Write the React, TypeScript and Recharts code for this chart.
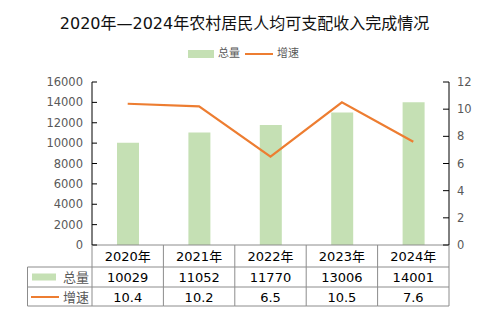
import React from 'react';
import { ComposedChart, Bar, Line, XAxis, YAxis } from 'recharts';

const years = ['2020年', '2021年', '2022年', '2023年', '2024年'];
const totals = [10029, 11052, 11770, 13006, 14001];
const growth = [10.4, 10.2, 6.5, 10.5, 7.6];
const leftTicks = [0, 2000, 4000, 6000, 8000, 10000, 12000, 14000, 16000];
const rightTicks = [0, 2, 4, 6, 8, 10, 12];
const seriesNames = ['总量', '增速'];
const titleText = '2020年—2024年农村居民人均可支配收入完成情况';

const data = years.map((y, i) => ({ year: y, total: totals[i], growth: growth[i] }));

const FONT = '"DejaVu Sans", "Noto Sans CJK SC", sans-serif';
const GREEN = '#C5E0B4';
const ORANGE = '#ED7D31';
const GRID = '#8c8c8c';
const GRAY_TEXT = '#595959';

const ROW1 = 22;
const ROW2 = 42;
const ROW3 = 61;

const TableTick = (props: any) => {
  const { x, y, payload, index } = props;
  const half = payload && payload.offset ? payload.offset : 35.7;
  const left = x - half;
  const right = x + half;
  const i = index;
  return (
    <g>
      <line x1={left} x2={right} y1={y + ROW1} y2={y + ROW1} stroke={GRID} strokeWidth={1} />
      <line x1={left} x2={right} y1={y + ROW2} y2={y + ROW2} stroke={GRID} strokeWidth={1} />
      <line x1={left} x2={right} y1={y + ROW3} y2={y + ROW3} stroke={GRID} strokeWidth={1} />
      <line x1={right} x2={right} y1={y} y2={y + ROW3} stroke={GRID} strokeWidth={1} />
      {i === 0 && (
        <g>
          <line x1={left} x2={left} y1={y} y2={y + ROW3} stroke={GRID} strokeWidth={1} />
          <line x1={27.5} x2={left} y1={y + ROW1} y2={y + ROW1} stroke={GRID} strokeWidth={1} />
          <line x1={27.5} x2={left} y1={y + ROW2} y2={y + ROW2} stroke={GRID} strokeWidth={1} />
          <line x1={27.5} x2={left} y1={y + ROW3} y2={y + ROW3} stroke={GRID} strokeWidth={1} />
          <line x1={27.5} x2={27.5} y1={y + ROW1} y2={y + ROW3} stroke={GRID} strokeWidth={1} />
          <rect x={32} y={y + 28.5} width={24} height={7} fill={GREEN} />
          <text x={63} y={y + 32} fontSize={13} fill={GRAY_TEXT} dominantBaseline="central" fontFamily={FONT}>
            {seriesNames[0]}
          </text>
          <line x1={31} x2={59} y1={y + 52} y2={y + 52} stroke={ORANGE} strokeWidth={2} />
          <text x={63} y={y + 52} fontSize={13} fill={GRAY_TEXT} dominantBaseline="central" fontFamily={FONT}>
            {seriesNames[1]}
          </text>
        </g>
      )}
      <text x={x} y={y + 11.5} fontSize={13} fill="#000" textAnchor="middle" dominantBaseline="central" fontFamily={FONT}>
        {payload.value}
      </text>
      <text x={x} y={y + 32.5} fontSize={13} fill="#000" textAnchor="middle" dominantBaseline="central" fontFamily={FONT}>
        {totals[i]}
      </text>
      <text x={x} y={y + 52} fontSize={13} fill="#000" textAnchor="middle" dominantBaseline="central" fontFamily={FONT}>
        {growth[i].toFixed(1)}
      </text>
    </g>
  );
};

export default function App() {
  return (
    <div style={{ position: 'absolute', left: 0, top: 0, width: 489, height: 327, background: '#fff', fontFamily: FONT }}>
      <div
        style={{
          position: 'absolute',
          left: 0,
          top: 12,
          width: 489,
          textAlign: 'center',
          fontSize: 16,
          lineHeight: '24px',
          color: '#111',
          fontFamily: FONT,
        }}
      >
        {titleText}
      </div>
      <div style={{ position: 'absolute', left: 188, top: 50, width: 26, height: 7.5, background: GREEN }} />
      <div style={{ position: 'absolute', left: 218, top: 46, fontSize: 11, lineHeight: '16px', color: GRAY_TEXT }}>
        {seriesNames[0]}
      </div>
      <div style={{ position: 'absolute', left: 245, top: 53, width: 28, height: 2, background: ORANGE }} />
      <div style={{ position: 'absolute', left: 277, top: 46, fontSize: 11, lineHeight: '16px', color: GRAY_TEXT }}>
        {seriesNames[1]}
      </div>
      <div style={{ position: 'absolute', left: 0, top: 0 }}>
        <ComposedChart width={489} height={327} data={data} margin={{ top: 82, right: 0, bottom: 21, left: 0 }}>
          <XAxis
            dataKey="year"
            height={61}
            interval={0}
            tickLine={false}
            tickSize={0}
            tickMargin={0}
            axisLine={{ stroke: GRID, strokeWidth: 1 }}
            tick={(p: any) => <TableTick {...p} />}
          />
          <YAxis
            yAxisId="left"
            width={92}
            domain={[0, 16000]}
            ticks={leftTicks}
            interval={0}
            tickSize={-5}
            tickMargin={14}
            axisLine={{ stroke: '#000', strokeWidth: 1 }}
            tickLine={{ stroke: '#000', strokeWidth: 1 }}
            tick={{ fill: GRAY_TEXT, fontSize: 11.5, fontFamily: FONT }}
          />
          <YAxis
            yAxisId="right"
            orientation="right"
            width={40}
            domain={[0, 12]}
            ticks={rightTicks}
            interval={0}
            tickSize={-6}
            tickMargin={14}
            axisLine={{ stroke: '#000', strokeWidth: 1 }}
            tickLine={{ stroke: '#000', strokeWidth: 1 }}
            tick={{ fill: GRAY_TEXT, fontSize: 11.5, fontFamily: FONT }}
          />
          <Bar yAxisId="left" dataKey="total" fill={GREEN} barSize={22} isAnimationActive={false} />
          <Line
            yAxisId="right"
            dataKey="growth"
            stroke={ORANGE}
            strokeWidth={2.2}
            dot={false}
            activeDot={false}
            type="linear"
            isAnimationActive={false}
          />
        </ComposedChart>
      </div>
    </div>
  );
}
